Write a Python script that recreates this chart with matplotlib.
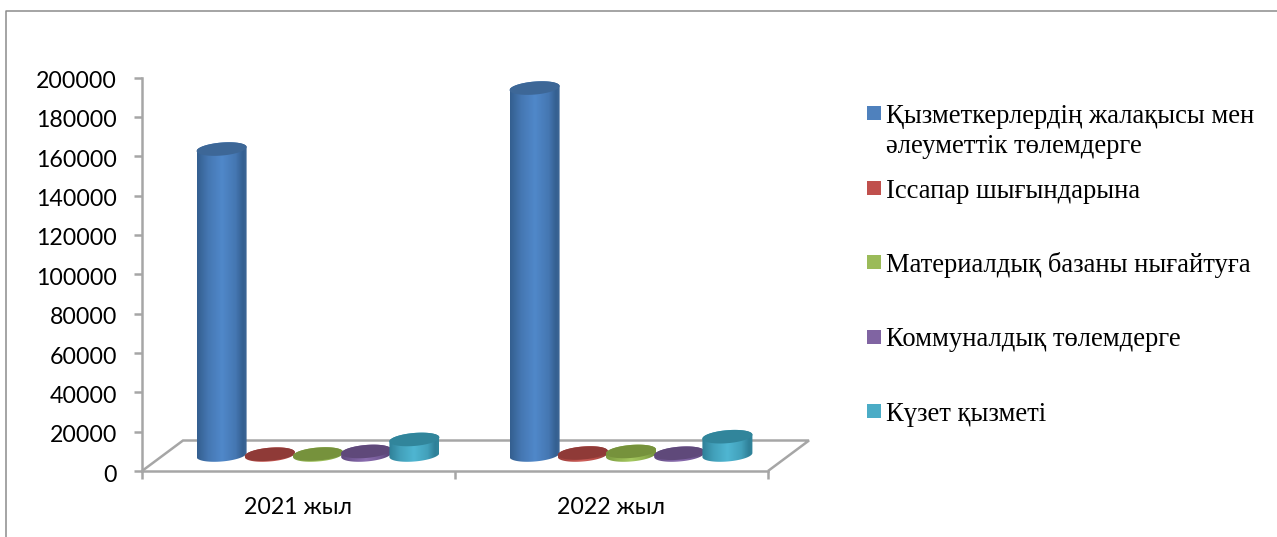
import numpy as np
import matplotlib
matplotlib.use("Agg")
import matplotlib.pyplot as plt
from matplotlib.colors import LinearSegmentedColormap
from matplotlib.lines import Line2D
from matplotlib.patches import PathPatch, Polygon, Rectangle
from matplotlib.path import Path
from matplotlib.transforms import ScaledTranslation

W, H = 1277, 537

years = ["2021 жыл", "2022 жыл"]
series_names = [
    "Қызметкерлердің жалақысы мен\nәлеуметтік төлемдерге",
    "Іссапар шығындарына",
    "Материалдық базаны нығайтуға",
    "Коммуналдық төлемдерге",
    "Күзет қызметі",
]
salaries = [155500, 186500]
travel = [400, 1000]
materials = [500, 1800]
utilities = [1800, 900]
security = [7900, 9300]
yticks = [0, 20000, 40000, 60000, 80000, 100000, 120000, 140000, 160000, 180000, 200000]

all_series = [salaries, travel, materials, utilities, security]
legend_colors = ["#4f81bd", "#c0504d", "#9bbb59", "#8064a2", "#4bacc6"]
top_colors = ["#3d6797", "#8f3a37", "#76923c", "#5f497a", "#31859b"]
edge_colors = ["#345f90", "#96403c", "#7a9a40", "#604a7e", "#2f8098"]
shade_colors = ["#4577b2", "#b54a46", "#8fb04e", "#755b98", "#42a0ba"]
mid_colors = ["#5088ca", "#cf5f5a", "#a5c95f", "#8b6db0", "#4fb6d2"]

GREY = "#a6a6a6"
FRAME = "#8c8c8c"

fig = plt.figure(figsize=(W / 100, H / 100), dpi=100, facecolor="white")
AX_L, AX_R, AX_T, AX_B = 142, 768, 77.5, 471
ax = fig.add_axes([AX_L / W, 1 - AX_B / H, (AX_R - AX_L) / W, (AX_B - AX_T) / H])
ax.set_facecolor("none")
ax.set_xlim(0, 2)
ax.set_ylim(0, 200000)
ax.autoscale(False)

px_x = 2 / (AX_R - AX_L)
px_y = 200000 / (AX_B - AX_T)

# floor of the 3D box
fdx, fdy = 41 * px_x, 30.5 * px_y
floor = [(0, 0), (fdx, fdy), (2 + fdx, fdy), (2, 0)]
ax.add_patch(Polygon(floor, closed=False, fill=False, ec=GREY, lw=1.8, clip_on=False, zorder=1))

# cylinders
depth_x, depth_y = 19.5 * px_x, 16 * px_y
a, b, k = 25 * px_x, 6.5 * px_y, 2 * px_y
step = 48.2 * px_x
t = np.linspace(0, 2 * np.pi, 121)
z = 3
for g in range(len(years)):
    for s, vals in enumerate(all_series):
        cx = g + 0.5 + depth_x + (s - 2) * step
        y0 = depth_y
        y1 = depth_y + vals[g]
        ex = cx + a * np.cos(t)
        lower = t[60:121]
        upper = t[0:61]
        bx = cx + a * np.cos(lower)
        by = y0 + b * np.sin(lower) + k * np.cos(lower)
        ux = cx + a * np.cos(upper)
        uy = y1 + b * np.sin(upper) + k * np.cos(upper)
        verts = np.vstack([np.column_stack([bx, by]), np.column_stack([ux, uy])])
        clip = PathPatch(Path(np.vstack([verts, verts[:1]])), transform=ax.transData, fc="none", ec="none")
        ax.add_patch(clip)
        cmap = LinearSegmentedColormap.from_list(
            "c", [(0, edge_colors[s]), (0.22, shade_colors[s]), (0.5, mid_colors[s]),
                  (0.78, shade_colors[s]), (0.93, edge_colors[s]), (1, top_colors[s])])
        im = ax.imshow(np.linspace(0, 1, 64)[None, :], cmap=cmap, aspect="auto", origin="lower",
                       extent=[cx - a, cx + a, y0 - 2 * b, y1 + 2 * b], zorder=z, interpolation="bilinear")
        im.set_clip_path(clip)
        top = Polygon(np.column_stack([ex, y1 + b * np.sin(t) + k * np.cos(t)]), closed=True,
                      fc=top_colors[s], ec="none", zorder=z + 0.5)
        ax.add_patch(top)
        z += 1
ax.set_xlim(0, 2)
ax.set_ylim(0, 200000)

# axes
for sp in ("top", "right"):
    ax.spines[sp].set_visible(False)
for sp in ("left", "bottom"):
    ax.spines[sp].set_color(GREY)
    ax.spines[sp].set_linewidth(1.8)
TICK_FONT = ["Lato", "Open Sans", "DejaVu Sans"]
ax.set_yticks(yticks)
ax.set_yticklabels([str(v) for v in yticks], fontsize=16.7, family=TICK_FONT, color="black")
ax.tick_params(axis="y", length=6, width=1.8, color=GREY, pad=12)
shift = ScaledTranslation(0, -1.5 / 72, fig.dpi_scale_trans)
for lab in ax.get_yticklabels():
    lab.set_transform(lab.get_transform() + shift)
ax.set_xticks([0, 1, 2])
ax.set_xticklabels([])
ax.tick_params(axis="x", which="major", length=6, width=1.8, color=GREY)
ax.set_xticks([0.5, 1.5], minor=True)
ax.set_xticklabels(years, minor=True, fontsize=16.7, family=TICK_FONT, color="black")
ax.tick_params(axis="x", which="minor", length=0, pad=19)

# legend
SERIF = ["Liberation Serif", "DejaVu Serif"]
for i, name in enumerate(series_names):
    my = 106 + i * 74.5
    fig.add_artist(Rectangle((867 / W, 1 - (my + 14) / H), 14 / W, 14 / H,
                             transform=fig.transFigure, fc=legend_colors[i], ec="none"))
    for j, line in enumerate(name.split("\n")):
        fig.text(886 / W, 1 - (my + 17 + j * 30) / H, line, fontsize=19.2, family=SERIF,
                 color="black", ha="left", va="baseline")

# chart frame
fig.add_artist(Line2D([5.5 / W, 5.5 / W, 1], [0, 1 - 10.5 / H, 1 - 10.5 / H],
                      transform=fig.transFigure, color=FRAME, lw=1.1))

fig.savefig("out.png", dpi=100, facecolor="white")
